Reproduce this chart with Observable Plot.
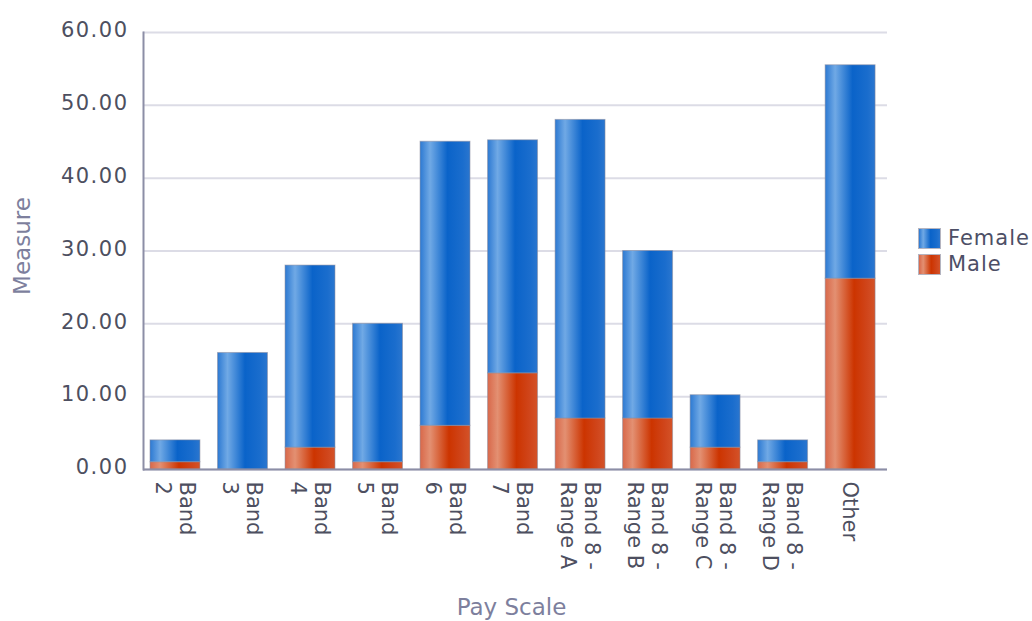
<!DOCTYPE html>
<html><head><meta charset="utf-8">
<script src="https://cdn.jsdelivr.net/npm/d3@7"></script>
<script src="https://cdn.jsdelivr.net/npm/@observablehq/plot@0.6"></script>
<style>
body{margin:0;background:#fff;}
#wrap{position:relative;width:1032px;height:621px;overflow:hidden;font-family:"DejaVu Sans",sans-serif;}
.legend{position:absolute;left:918px;top:225px;}
.item{display:flex;align-items:center;height:26px;}
.sw{width:23px;height:21px;border:1px solid #b4b4c0;margin-right:7px;box-sizing:border-box}
.lab{font-size:21px;color:#4d4f66;letter-spacing:1px;white-space:nowrap}
</style></head><body><div id="wrap"></div>
<script>
const categories = ["Band 2","Band 3","Band 4","Band 5","Band 6","Band 7","Band 8 - Range A","Band 8 - Range B","Band 8 - Range C","Band 8 - Range D","Other"];
const tickLabels = ["Band\n2","Band\n3","Band\n4","Band\n5","Band\n6","Band\n7","Band 8 -\nRange A","Band 8 -\nRange B","Band 8 -\nRange C","Band 8 -\nRange D","Other"];
const male   = [1, 0, 3, 1, 6, 13.2, 7, 7, 3, 1, 26.2];
const female = [3, 16, 25, 19, 39, 32, 41, 23, 7.2, 3, 29.3];
const seriesNames = ["Female", "Male"];
const yTicks = [0, 10, 20, 30, 40, 50, 60];
const blueStops = [[0,"#2c79d2"],[0.2,"#70a9e5"],[0.55,"#0a63c9"],[0.85,"#1a6dcd"],[1,"#2a76cf"]];
const redStops  = [[0,"#d8684a"],[0.2,"#e39072"],[0.58,"#cc3400"],[0.85,"#d0461c"],[1,"#d45328"]];

const data = [];
categories.forEach((c, i) => {
  data.push({cat: c, gender: "Male", value: male[i]});
  data.push({cat: c, gender: "Female", value: female[i]});
});

const defs = () => {
  const g = d3.create("svg:defs");
  const mk = (id, stops) => {
    const lg = g.append("linearGradient").attr("id", id).attr("x1", 0).attr("x2", 1).attr("y1", 0).attr("y2", 0);
    stops.forEach(([o, c]) => lg.append("stop").attr("offset", o).attr("stop-color", c));
  };
  mk("gFemale", blueStops);
  mk("gMale", redStops);
  return g.node();
};

const axisCol = "#8c8ea6";
const titleCol = "#7d7f9d";

const chart = Plot.plot({
  width: 1032, height: 621,
  marginLeft: 143, marginRight: 145, marginTop: 32, marginBottom: 152,
  style: {fontFamily: "DejaVu Sans, sans-serif", fontSize: "21px", color: "#4d4f60", background: "white"},
  x: {domain: categories, paddingInner: 0.26, paddingOuter: 0.14, align: 0.37, round: false, axis: null},
  y: {domain: [0, 60], axis: null},
  color: {domain: seriesNames, range: ["url(#gFemale)", "url(#gMale)"]},
  marks: [
    defs,
    Plot.gridY(yTicks, {stroke: "#dcdce6", strokeOpacity: 1, strokeWidth: 2}),
    Plot.barY(data, {x: "cat", y: "value", fill: "gender", stroke: "#8e8e9e", strokeOpacity: 0.55, strokeWidth: 1}),
    Plot.axisY({ticks: yTicks, tickSize: 0, tickPadding: 15, tickFormat: d => d.toFixed(2), label: null, fontSize: 21, dy: -2}),
    Plot.text(categories, {x: d => d, text: (d, i) => tickLabels[i], frameAnchor: "bottom", rotate: 90, textAnchor: "start", lineAnchor: "middle", dy: 12, lineHeight: 1.15, fontSize: 21}),
    Plot.frame({anchor: "left", stroke: axisCol, strokeWidth: 2}),
    Plot.ruleY([0], {stroke: axisCol, strokeWidth: 2}),
    Plot.text(["Measure"], {frameAnchor: "left", textAnchor: "middle", lineAnchor: "middle", rotate: -90, dx: -121, dy: -5, fill: titleCol, fontSize: 23, ariaLabel: "ttl"}),
    Plot.text(["Pay Scale"], {frameAnchor: "bottom", textAnchor: "middle", lineAnchor: "middle", dy: 138, dx: -4, fill: titleCol, fontSize: 23, ariaLabel: "ttl"})
  ]
});
d3.select(chart).selectAll('g[aria-label="y-axis tick label"] text').style("letter-spacing", "1.5px");
d3.select(chart).selectAll('g[aria-label="ttl"] text').style("letter-spacing", "2.2px");

const wrap = document.getElementById("wrap");
wrap.appendChild(chart);
const grad = s => "linear-gradient(to right," + s.map(([o, c]) => c + " " + (o * 100) + "%").join(",") + ")";
const legend = document.createElement("div");
legend.className = "legend";
seriesNames.forEach(n => {
  const it = document.createElement("div"); it.className = "item";
  const sw = document.createElement("div"); sw.className = "sw";
  sw.style.background = grad(n === "Female" ? blueStops : redStops);
  const lb = document.createElement("span"); lb.className = "lab"; lb.textContent = n;
  it.appendChild(sw); it.appendChild(lb); legend.appendChild(it);
});
wrap.appendChild(legend);
</script></body></html>
